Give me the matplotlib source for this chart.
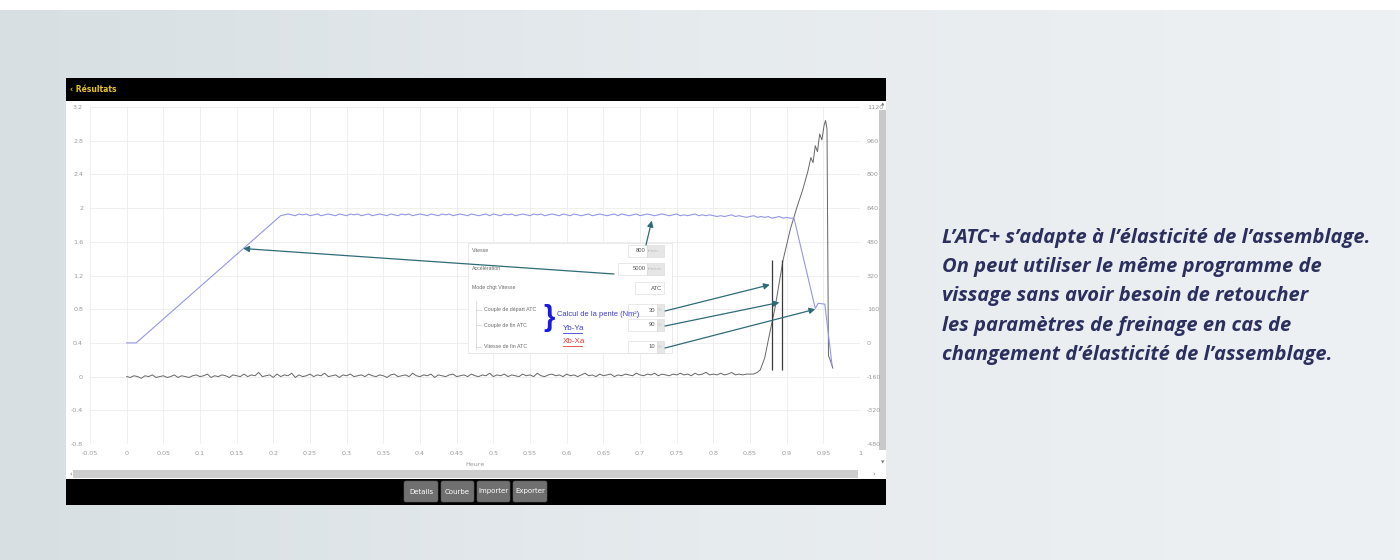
import numpy as np
import matplotlib
matplotlib.use("Agg")
import matplotlib.pyplot as plt
from matplotlib.patches import Rectangle, FancyBboxPatch
from matplotlib.colors import LinearSegmentedColormap

W, H = 1400, 560

# ---------------- data ----------------
x_ticks = [-0.05, 0, 0.05, 0.1, 0.15, 0.2, 0.25, 0.3, 0.35, 0.4, 0.45, 0.5,
           0.55, 0.6, 0.65, 0.7, 0.75, 0.8, 0.85, 0.9, 0.95, 1.0]
x_tick_labels = ["-0.05", "0", "0.05", "0.1", "0.15", "0.2", "0.25", "0.3", "0.35",
                 "0.4", "0.45", "0.5", "0.55", "0.6", "0.65", "0.7", "0.75", "0.8",
                 "0.85", "0.9", "0.95", "1"]
left_ticks = [-0.8, -0.4, 0, 0.4, 0.8, 1.2, 1.6, 2.0, 2.4, 2.8, 3.2]
left_tick_labels = ["-0.8", "-0.4", "0", "0.4", "0.8", "1.2", "1.6", "2", "2.4", "2.8", "3.2"]
right_ticks = [-480, -320, -160, 0, 160, 320, 480, 640, 800, 960, 1120]
right_tick_labels = ["-480", "-320", "-160", "0", "160", "320", "480", "640", "800", "960", "1120"]
x_label = "Heure"

# torque (grey) : baseline noise sampled every 5 ms, then the tightening peak
torque_noise_t0, torque_noise_dt = 0.0, 0.005
torque_noise = [
    0.00, -0.01, 0.01, 0.00, -0.02, 0.01, 0.00, 0.02, -0.01, 0.00,
    0.01, -0.01, 0.00, 0.02, -0.01, 0.01, 0.00, -0.01, 0.01, 0.02,
    0.00, 0.01, 0.03, -0.01, 0.01, 0.00, 0.02, 0.01, -0.01, 0.02,
    0.01, 0.00, 0.03, 0.00, 0.02, 0.01, 0.05, 0.00, 0.01, 0.02,
    -0.01, 0.03, 0.00, 0.02, 0.01, 0.04, -0.01, 0.02, 0.00, 0.01,
    0.03, 0.00, 0.02, 0.01, 0.04, 0.00, 0.01, 0.02, -0.01, 0.02,
    0.01, 0.03, 0.00, 0.01, 0.02, 0.00, 0.03, 0.01, 0.00, 0.02,
    0.01, -0.01, 0.02, 0.03, 0.00, 0.01, 0.02, 0.00, 0.04, 0.01,
    0.00, 0.02, 0.01, 0.03, -0.01, 0.02, 0.01, 0.00, 0.02, 0.03,
    0.00, 0.01, 0.02, 0.00, 0.03, 0.01, 0.00, 0.02, 0.01, 0.04,
    0.00, 0.02, 0.01, 0.03, 0.00, 0.02, 0.01, 0.00, 0.03, 0.01,
    0.02, 0.00, 0.04, 0.01, 0.00, 0.02, 0.03, 0.01, 0.02, 0.00,
    0.03, 0.01, 0.02, 0.00, 0.02, 0.04, 0.01, 0.02, 0.00, 0.03,
    0.01, 0.02, 0.03, 0.00, 0.02, 0.01, 0.03, 0.02, 0.01, 0.04,
    0.02, 0.01, 0.03, 0.02, 0.04, 0.01, 0.03, 0.02, 0.01, 0.03,
    0.02, 0.04, 0.02, 0.03, 0.01, 0.04, 0.02, 0.03, 0.05, 0.02,
    0.03, 0.02, 0.04, 0.02, 0.03, 0.05, 0.02, 0.03, 0.02, 0.03,
    0.03,
]
torque_peak_t = [0.855, 0.860, 0.864, 0.870, 0.877, 0.884, 0.895, 0.905, 0.914, 0.922,
                 0.929, 0.933, 0.936, 0.939, 0.942, 0.945, 0.948, 0.951, 0.953, 0.955,
                 0.957, 0.960, 0.963]
torque_peak_v = [0.03, 0.05, 0.08, 0.22, 0.52, 0.81, 1.38, 1.75, 2.01, 2.22,
                 2.44, 2.60, 2.54, 2.74, 2.67, 2.88, 2.81, 2.98, 3.04, 2.94,
                 0.25, 0.18, 0.10]

# speed (blue)
speed_start_t = [0.0, 0.013]
speed_start_v = [0.40, 0.40]
speed_flat_t0, speed_flat_dt = 0.21, 0.005
speed_flat_v = [
    1.91, 1.92, 1.93, 1.92, 1.91, 1.93, 1.92, 1.93, 1.91, 1.92,
    1.93, 1.91, 1.92, 1.93, 1.92, 1.91, 1.93, 1.92, 1.91, 1.93,
    1.92, 1.93, 1.91, 1.92, 1.93, 1.91, 1.92, 1.93, 1.92, 1.91,
    1.93, 1.92, 1.91, 1.93, 1.92, 1.93, 1.91, 1.92, 1.93, 1.92,
    1.91, 1.93, 1.92, 1.91, 1.93, 1.92, 1.93, 1.91, 1.92, 1.93,
    1.92, 1.91, 1.93, 1.92, 1.91, 1.92, 1.93, 1.91, 1.93, 1.92,
    1.91, 1.93, 1.92, 1.93, 1.91, 1.92, 1.93, 1.92, 1.91, 1.93,
    1.92, 1.93, 1.91, 1.92, 1.93, 1.92, 1.91, 1.93, 1.92, 1.91,
    1.93, 1.92, 1.91, 1.92, 1.93, 1.91, 1.92, 1.93, 1.92, 1.91,
    1.92, 1.93, 1.91, 1.93, 1.92, 1.91, 1.92, 1.93, 1.91, 1.92,
    1.93, 1.92, 1.91, 1.92, 1.93, 1.92, 1.91, 1.92, 1.93, 1.91,
    1.92, 1.91, 1.92, 1.93, 1.91, 1.92, 1.91, 1.92, 1.91, 1.90,
    1.91, 1.90, 1.91, 1.92, 1.90, 1.91, 1.90, 1.89, 1.90, 1.91,
    1.89, 1.90, 1.89, 1.90, 1.88, 1.89, 1.90, 1.88, 1.89, 1.88,
    1.88,
]
speed_end_t = [0.939, 0.943, 0.952, 0.962]
speed_end_v = [0.81, 0.87, 0.86, 0.13]

# ATC markers (vertical lines)
marker_t = [0.880, 0.894]
marker_lo, marker_hi = 0.08, 1.38

# annotation targets (data) for the arrows
arrow_targets = [(0.716, 1.85), (0.159, 1.52), (0.877, 1.09), (0.890, 0.88), (0.939, 0.80)]

# settings panel
param_labels = ["Vitesse", "Accélération", "Mode chgt Vitesse",
                "Couple de départ ATC", "Couple de fin ATC", "Vitesse de fin ATC"]
param_values = ["800", "5000", "ATC", "30", "90", "10"]
param_units = ["tr/min", "tr/min/s", "", "%", "%", "%"]
buttons = ["Details", "Courbe", "Importer", "Exporter"]

side_text = ["L\u2019ATC+ s\u2019adapte à l\u2019élasticité de l\u2019assemblage.",
             "On peut utiliser le même programme de",
             "vissage sans avoir besoin de retoucher",
             "les paramètres de freinage en cas de",
             "changement d\u2019élasticité de l\u2019assemblage."]

# ---------------- build series ----------------
torque_noise_t = np.round(torque_noise_t0 + torque_noise_dt * np.arange(len(torque_noise)), 4)
torque_t = np.concatenate([torque_noise_t, torque_peak_t])
torque_v = np.concatenate([torque_noise, torque_peak_v])
speed_flat_t = np.round(speed_flat_t0 + speed_flat_dt * np.arange(len(speed_flat_v)), 4)
speed_t = np.concatenate([speed_start_t, speed_flat_t, speed_end_t])
speed_v = np.concatenate([speed_start_v, speed_flat_v, speed_end_v])

# ---------------- figure ----------------
fig = plt.figure(figsize=(W / 100, H / 100), dpi=100)


def frac(x0, y0, x1, y1):
    return [x0 / W, 1 - y1 / H, (x1 - x0) / W, (y1 - y0) / H]


# background (pixel coordinates, y downward)
bg = fig.add_axes([0, 0, 1, 1], zorder=0)
bg.set_xlim(0, W)
bg.set_ylim(H, 0)
bg.axis("off")
cmap = LinearSegmentedColormap.from_list("g", ["#d7dfe3", "#e6ebee", "#eef1f4"])
grad = np.linspace(0, 1, 256).reshape(1, -1)
bg.imshow(grad, cmap=cmap, extent=[0, W, H, 10], aspect="auto", zorder=0)
bg.add_patch(Rectangle((0, 0), W, 10, fc="white", ec="none", zorder=1))
# app panel
bg.add_patch(Rectangle((66, 78), 820, 23, fc="black", ec="none", zorder=2))
bg.add_patch(Rectangle((66, 101), 820, 378, fc="white", ec="none", zorder=2))
bg.add_patch(Rectangle((66, 479), 820, 26, fc="black", ec="none", zorder=2))
bg.text(70, 90, "\u2039 Résultats", color="#e8c41c", fontsize=5.5, fontweight="bold",
        va="center", ha="left", zorder=3)
# scrollbars
bg.add_patch(Rectangle((73, 470), 785, 8, fc="#cdcdcd", ec="none", zorder=3))
bg.add_patch(Rectangle((879, 110), 7, 340, fc="#c9c9c9", ec="none", zorder=3))
bg.text(69, 474, "\u2039", fontsize=5, color="#777", va="center", zorder=4)
bg.text(872, 474, "\u203a", fontsize=5, color="#777", va="center", zorder=4)
bg.text(882.5, 104, "\u25b2", fontsize=3.2, color="#777", va="center", ha="center", zorder=4)
bg.text(882.5, 463, "\u25bc", fontsize=3.2, color="#777", va="center", ha="center", zorder=4)
# buttons
bx = [(404, 438), (441, 474), (477, 510), (513, 547)]
for (x0, x1), lab in zip(bx, buttons):
    bg.add_patch(FancyBboxPatch((x0, 481), x1 - x0, 21, boxstyle="round,pad=0,rounding_size=2",
                                fc="#707070", ec="#5a5a5a", lw=0.4, zorder=3))
    bg.text((x0 + x1) / 2, 491.5, lab, color="white", fontsize=5, ha="center", va="center", zorder=4)
# side text
for i, line in enumerate(side_text):
    bg.text(942, 243 + i * 29.2, line, fontsize=14.5, family="Open Sans", fontweight="bold",
            style="italic", color="#2b2f5e", ha="left", va="baseline", zorder=3)

# ---------------- chart ----------------
ax = fig.add_axes(frac(90, 107, 860, 444), zorder=1)
ax.set_facecolor("white")
ax.set_xlim(-0.05, 1.0)
ax.set_ylim(-0.8, 3.2)
ax.set_xticks(x_ticks)
ax.set_xticklabels(x_tick_labels)
ax.set_yticks(left_ticks)
ax.set_yticklabels(left_tick_labels)
ax.grid(True, color="#ececec", lw=0.6)
ax.set_axisbelow(True)
for s in ax.spines.values():
    s.set_visible(False)
ax.tick_params(axis="both", length=0, labelsize=4.6, labelcolor="#9a9a9a")
ax.tick_params(axis="x", pad=5)
ax.tick_params(axis="y", pad=5)
ax.set_xlabel(x_label, fontsize=4.6, color="#9a9a9a", labelpad=4)

ax2 = ax.twinx()
ax2.set_ylim(-480, 1120)
ax2.set_yticks(right_ticks)
ax2.set_yticklabels(right_tick_labels)
ax2.tick_params(axis="y", length=0, labelsize=4.6, labelcolor="#9a9a9a", pad=5)
for s in ax2.spines.values():
    s.set_visible(False)

ax.plot(torque_t, torque_v, color="#666666", lw=0.7, zorder=3)
ax.plot(speed_t, speed_v, color="#9497e6", lw=0.8, zorder=4)
ax.vlines(marker_t, marker_lo, marker_hi, color="#3a3a3a", lw=0.9, zorder=5)

# ---------------- overlay (settings panel + arrows) ----------------
ov = fig.add_axes([0, 0, 1, 1], zorder=3)
ov.set_xlim(0, W)
ov.set_ylim(H, 0)
ov.axis("off")
ov.patch.set_alpha(0)

ov.add_patch(Rectangle((468, 243), 204, 110, fc="white", ec="#e2e2e2", lw=0.5, zorder=1))
rows_y = [251, 269, 288, 310, 325, 347]
label_x = [472, 472, 472, 484, 484, 484]
field_x = [(628, 647, 664), (618, 647, 664), (635, 664, 664),
           (628, 657, 664), (628, 657, 664), (628, 657, 664)]
for y, lx, (f0, f1, f2), lab, val, unit in zip(rows_y, label_x, field_x,
                                               param_labels, param_values, param_units):
    ov.text(lx, y, lab, fontsize=3.8, family="Liberation Sans", color="#6a6a6a",
            va="center", ha="left", zorder=3)
    ov.add_patch(Rectangle((f0, y - 6), f1 - f0, 12, fc="white", ec="#d8d8d8", lw=0.4, zorder=2))
    if f2 > f1:
        ov.add_patch(Rectangle((f1, y - 6), f2 - f1, 12, fc="#e6e6e6", ec="#d8d8d8", lw=0.4, zorder=2))
        ov.text(f1 + 1, y, unit, fontsize=3.2, family="Liberation Sans", color="#bbbbbb",
                va="center", ha="left", zorder=3)
    ov.text(f1 - 1.5, y, val, fontsize=4.2, family="Liberation Sans", color="#555",
            va="center", ha="right", zorder=3)
# group bracket
ov.plot([476, 476], [301, 349], color="#cfcfcf", lw=0.5, zorder=2)
for y in rows_y[3:]:
    ov.plot([476, 481], [y, y], color="#cfcfcf", lw=0.5, zorder=2)

ov.text(549, 318, "}", fontsize=21, family="Liberation Sans", color="#1a1ae6",
        fontweight="bold", va="center", ha="center", zorder=4)
ov.text(557, 314, "Calcul de la pente (Nm\u00b2)", fontsize=5.4, family="Liberation Sans",
        color="#3c3cd8", va="center", ha="left", zorder=4)
ov.text(563, 328.5, "Yb-Ya", fontsize=5.8, family="Liberation Sans", color="#3c3cd8",
        va="center", ha="left", zorder=4)
ov.plot([563, 582], [333, 333], color="#3c3cd8", lw=0.6, zorder=4)
ov.text(563, 341.5, "Xb-Xa", fontsize=5.8, family="Liberation Sans", color="#e03a3a",
        va="center", ha="left", zorder=4)
ov.plot([563, 582], [346, 346], color="#e03a3a", lw=0.6, zorder=4)

arrow_tails = [(646, 245), (614, 274), (665, 311), (665, 326), (665, 348)]
for (tx, ty), tgt in zip(arrow_tails, arrow_targets):
    ov.annotate("", xy=tgt, xycoords=ax.transData, xytext=(tx, ty), textcoords="data",
                annotation_clip=False,
                arrowprops=dict(arrowstyle="-|>,head_length=0.35,head_width=0.18",
                                color="#2f6a77", lw=0.9, shrinkA=0, shrinkB=0), zorder=5)

fig.savefig("out.png", dpi=100)
